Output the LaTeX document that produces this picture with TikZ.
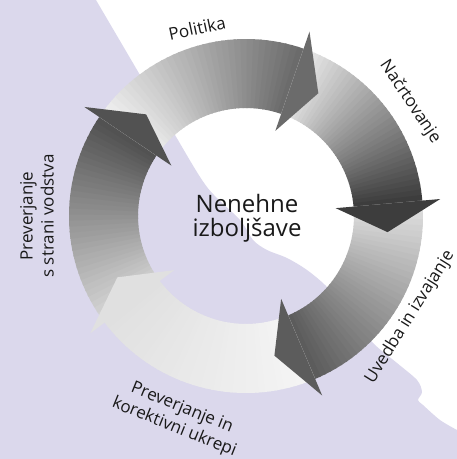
\documentclass[tikz,border=0pt]{standalone}
\usepackage{fontspec}
\setmainfont{Open Sans}
\definecolor{lavender}{RGB}{219,216,236}

\begin{document}
\begin{tikzpicture}[x=1pt,y=1pt,
    label text/.style={font=\fontsize{17}{21}\selectfont, align=center, text=black!90, inner sep=0pt},
    centre text/.style={font=\fontsize{24}{24}\selectfont, align=center, text=black!90, inner sep=0pt}]

  \useasboundingbox (-246,-243) rectangle (211,216);

  % background wave
  \fill[lavender] (-250,-247) -- (-250,220) -- (-152,220)
    -- plot[smooth,tension=0.5] coordinates {(-150,216) (-106,141) (-71,81) (-39,29) (-6,-4)
       (7,-24) (21,-34) (41,-42) (61,-54) (81,-71) (104,-99) (127,-127) (151,-147)
       (171,-164) (176,-176) (172,-184) (177,-189) (194,-204) (211,-214)}
    -- (215,-216) -- (215,-247) -- cycle;

  % ring segments, light at the tail, dark at the head
  \foreach \ta/\tb/\ca/\cb in {217/146/16/68, 146/71/5/58, 71/5/8/76, 5/-67/12/64, -67/-143/4/12}{
    \foreach \k in {0,...,35}{
      \pgfmathsetmacro{\sa}{\ta+(\tb-\ta)*\k/36}
      \pgfmathsetmacro{\sb}{\ta+(\tb-\ta)*(\k+1.3)/36}
      \pgfmathsetmacro{\tone}{\ca+(\cb-\ca)*\k/35}
      \fill[black!\tone] (\sa:108) arc[start angle=\sa, end angle=\sb, radius=108pt]
        -- (\sb:177) arc[start angle=\sb, end angle=\sa, radius=177pt] -- cycle;
    }
  }

  % arrow heads
  \foreach \h/\tone in {146/68, 71/58, 5/76, -67/64, -143/12}{
    \pgfmathsetmacro{\tip}{\h-11.5}
    \fill[black!\tone] (\h:90) -- (\h:195) -- (\tip:142.5) -- cycle;
  }

  \node[centre text] (centre) at (1,-2) {Nenehne\\izboljšave};
  \node[label text, rotate=12] (politika) at (-49,188) {Politika};
  \node[label text, rotate=-56] (nacrt) at (164,114) {Načrtovanje};
  \node[label text, rotate=58] (uvedba) at (164,-101) {Uvedba in izvajanje};
  \node[label text, rotate=-22] (korektivni) at (-68,-202) {Preverjanje in\\korektivni ukrepi};
  \node[label text, rotate=90] (vodstvo) at (-209,0) {Preverjanje\\s strani vodstva};

\end{tikzpicture}
\end{document}
